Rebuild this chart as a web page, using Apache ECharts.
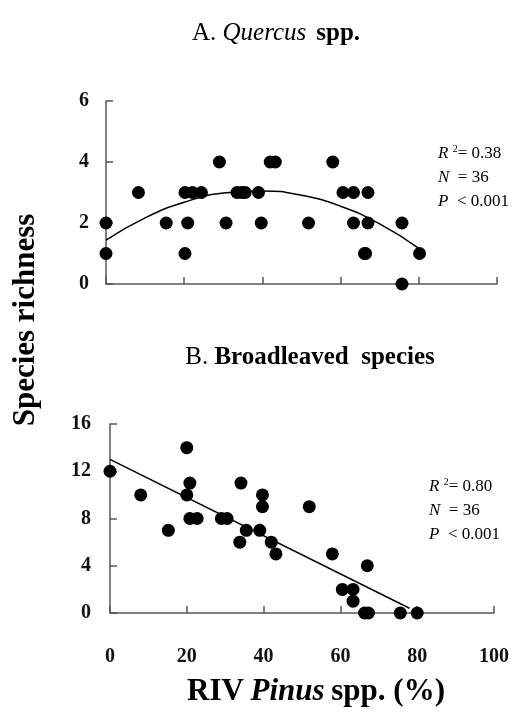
<!DOCTYPE html>
<html>
<head>
<meta charset="utf-8">
<script src="https://cdn.jsdelivr.net/npm/echarts@6/dist/echarts.min.js"></script>
<style>
  html, body { margin: 0; padding: 0; background: #fff; }
  #chart { width: 512px; height: 713px; }
</style>
</head>
<body>
<div id="chart"></div>
<script>
// A. Quercus spp. - RIV Pinus (%) vs species richness
const quercusPoints = [
    [0, 2], [0, 1], [8.3, 3], [15.4, 2], [20.2, 1], [20.2, 3], [22.1, 3], [24.4, 3],
    [20.9, 2], [29, 4], [30.7, 2], [33.5, 3], [34.7, 3], [35.6, 3], [39, 3], [39.7, 2],
    [42, 4], [43.3, 4], [51.8, 2], [58, 4], [60.6, 3], [63.3, 3], [63.3, 2], [67, 3],
    [67, 2], [66.1, 1], [66.4, 1], [75.7, 2], [75.7, 0], [80.2, 1]
];
// quadratic trend
const quercusFit = [
    [0, 1.44], [10, 2.17], [20, 2.68], [30, 2.98], [40, 3.05],
    [50, 2.91], [60, 2.55], [70, 1.97], [80, 1.17]
];

// B. Broadleaved species
const broadPoints = [
    [0, 12], [8, 10], [15.2, 7], [20, 14], [20.8, 11], [20, 10], [20.8, 8], [22.7, 8],
    [29, 8], [30.5, 8], [34.1, 11], [33.8, 6], [35.5, 7], [39, 7], [39.7, 10], [39.7, 9],
    [42, 6], [43.2, 5], [51.9, 9], [57.9, 5], [60.5, 2], [63.3, 2], [63.3, 1], [67, 4],
    [66.3, 0], [67.3, 0], [75.6, 0], [80, 0]
];
const broadFit = [[0, 13.0], [78, 0.4]];

const xTicks = [0, 20, 40, 60, 80, 100];
const quercusStats = ["0.38", "36", "0.001"];
const broadStats = ["0.80", "36", "0.001"];

const SERIF = '"Liberation Serif", "Times New Roman", serif';
const INK = "#000";
const AXIS = "#555";

function statsText(s) {
    return `{i|R} {s|2}= ${s[0]}\n{i|N}  = ${s[1]}\n{i|P}  < ${s[2]}`;
}

const statsRich = {
    i: { fontStyle: "italic", fontWeight: "normal", fontSize: 17, fontFamily: SERIF, color: INK, lineHeight: 24 },
    s: { fontSize: 10, fontWeight: "normal", fontFamily: SERIF, color: INK, padding: [0, 0, 9, 0], lineHeight: 24 },
};

function axisBase() {
    return {
        axisLine: { lineStyle: { color: AXIS, width: 1.5 } },
        axisTick: { inside: true, length: 7, lineStyle: { color: AXIS, width: 1.5 } },
        splitLine: { show: false },
    };
}

const labelStyle = { fontFamily: SERIF, fontWeight: "bold", fontSize: 20, color: "#111" };

const chart = echarts.init(document.getElementById("chart"));

chart.setOption({
    backgroundColor: "#fff",
    animation: false,
    title: [
        {
            text: "{a|A. }{i|Quercus}  {b|spp.}",
            left: 271, top: 16, textAlign: "center",
            textStyle: {
                fontWeight: "normal",
                rich: {
                    a: { fontFamily: SERIF, fontSize: 25, fontWeight: "normal", color: INK },
                    i: { fontFamily: SERIF, fontSize: 25, fontStyle: "italic", fontWeight: "normal", color: INK },
                    b: { fontFamily: SERIF, fontSize: 25, fontWeight: "bold", color: INK },
                },
            },
        },
        {
            text: "{a|B. }{b|Broadleaved  species}",
            left: 305, top: 340, textAlign: "center",
            textStyle: {
                fontWeight: "normal",
                rich: {
                    a: { fontFamily: SERIF, fontSize: 25, fontWeight: "normal", color: INK },
                    b: { fontFamily: SERIF, fontSize: 25, fontWeight: "bold", color: INK },
                },
            },
        },
        {
            text: statsText(quercusStats),
            left: 433, top: 137,
            textStyle: { fontFamily: SERIF, fontSize: 17, fontWeight: "normal", color: INK, lineHeight: 24, rich: statsRich },
        },
        {
            text: statsText(broadStats),
            left: 424, top: 470,
            textStyle: { fontFamily: SERIF, fontSize: 17, fontWeight: "normal", color: INK, lineHeight: 24, rich: statsRich },
        },
    ],
    graphic: [
        {
            type: "text",
            x: 26, y: 320,
            rotation: Math.PI / 2,
            style: {
                text: "Species richness",
                font: `bold 31px ${SERIF}`,
                fill: INK,
                textAlign: "center",
                textVerticalAlign: "middle",
            },
        },
        {
            type: "text",
            x: 316, y: 692,
            style: {
                text: "{b|RIV}  {bi|Pinus}  {b|spp. (%)}",
                textAlign: "center",
                textVerticalAlign: "middle",
                rich: {
                    b: { fontFamily: SERIF, fontWeight: "bold", fontSize: 31, fill: INK },
                    bi: { fontFamily: SERIF, fontWeight: "bold", fontStyle: "italic", fontSize: 31, fill: INK },
                },
            },
        },
    ],
    grid: [
        { left: 106, top: 101, width: 391, height: 183 },
        { left: 110, top: 424, width: 387, height: 189 },
    ],
    xAxis: [
        Object.assign(axisBase(), {
            type: "value", gridIndex: 0, min: 0, max: 100, interval: 20,
            axisLabel: { show: false },
        }),
        Object.assign(axisBase(), {
            type: "value", gridIndex: 1, min: 0, max: 100, interval: 20,
            axisLabel: Object.assign({ margin: 34, formatter: v => xTicks.includes(v) ? String(v) : "" }, labelStyle),
        }),
    ],
    yAxis: [
        Object.assign(axisBase(), {
            type: "value", gridIndex: 0, min: 0, max: 6, interval: 2,
            axisLabel: Object.assign({ margin: 17 }, labelStyle),
        }),
        Object.assign(axisBase(), {
            type: "value", gridIndex: 1, min: 0, max: 16, interval: 4,
            axisLabel: Object.assign({ margin: 19 }, labelStyle),
        }),
    ],
    series: [
        {
            type: "line", xAxisIndex: 0, yAxisIndex: 0,
            data: quercusFit, smooth: true, showSymbol: false,
            lineStyle: { color: INK, width: 1.5 }, z: 3,
        },
        {
            type: "scatter", xAxisIndex: 0, yAxisIndex: 0,
            data: quercusPoints, symbolSize: 13,
            itemStyle: { color: INK, opacity: 1 }, z: 4,
        },
        {
            type: "line", xAxisIndex: 1, yAxisIndex: 1,
            data: broadFit, showSymbol: false,
            lineStyle: { color: INK, width: 1.5 }, z: 3,
        },
        {
            type: "scatter", xAxisIndex: 1, yAxisIndex: 1,
            data: broadPoints, symbolSize: 13,
            itemStyle: { color: INK, opacity: 1 }, z: 4,
        },
    ],
});
</script>
</body>
</html>
